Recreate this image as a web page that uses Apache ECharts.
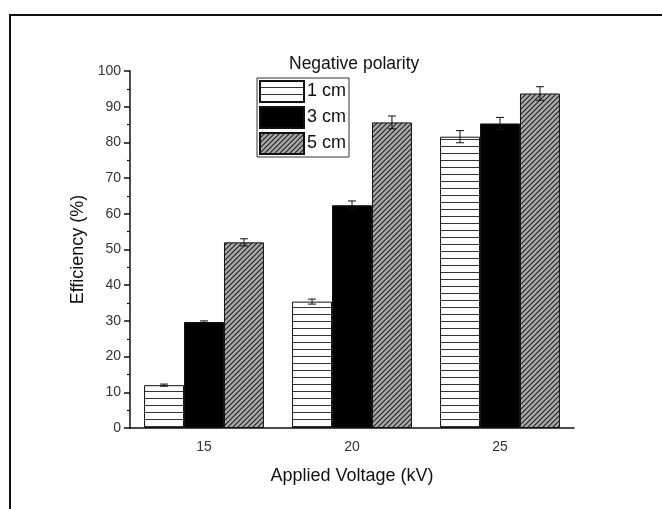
<!DOCTYPE html>
<html>
<head>
<meta charset="utf-8">
<script src="https://cdn.jsdelivr.net/npm/echarts@6/dist/echarts.min.js"></script>
<style>
  html, body { margin: 0; padding: 0; background: #fff; }
  #chart { width: 662px; height: 509px; }
</style>
</head>
<body>
<div id="chart"></div>
<script>
// data
const voltages = ['15', '20', '25'];
const seriesNames = ['1 cm', '3 cm', '5 cm'];
const eff1cm = [12.0, 35.4, 81.6];
const eff3cm = [29.7, 62.4, 85.3];
const eff5cm = [52.0, 85.6, 93.7];
const err1cm = [0.3, 0.7, 1.7];
const err3cm = [0.3, 1.2, 1.7];
const err5cm = [1.0, 1.8, 1.9];

const font = 'Liberation Sans, Arial, sans-serif';

// fill patterns
function stripes() {
  const c = document.createElement('canvas');
  c.width = 8; c.height = 7;
  const ctx = c.getContext('2d');
  ctx.fillStyle = '#fff';
  ctx.fillRect(0, 0, 8, 7);
  ctx.fillStyle = '#333';
  ctx.fillRect(0, 6, 8, 1);
  return c;
}
function hatch() {
  const c = document.createElement('canvas');
  c.width = 5; c.height = 5;
  const ctx = c.getContext('2d');
  ctx.fillStyle = '#a8a8a8';
  ctx.fillRect(0, 0, 5, 5);
  ctx.strokeStyle = '#222';
  ctx.lineWidth = 1.1;
  ctx.beginPath();
  ctx.moveTo(-1, 6); ctx.lineTo(6, -1);
  ctx.moveTo(-1, 1); ctx.lineTo(1, -1);
  ctx.moveTo(4, 6); ctx.lineTo(6, 4);
  ctx.stroke();
  return c;
}

const fills = [
  { image: stripes(), repeat: 'repeat' },
  '#000',
  { image: hatch(), repeat: 'repeat' }
];
const values = [eff1cm, eff3cm, eff5cm];
const errors = [err1cm, err3cm, err5cm];

const errData = [];
values.forEach((arr, s) => {
  arr.forEach((v, i) => errData.push([i, s, v, errors[s][i]]));
});

const chart = echarts.init(document.getElementById('chart'));

const option = {
  animation: false,
  backgroundColor: '#fff',
  graphic: [{
    type: 'rect',
    shape: { x: 10, y: 15, width: 700, height: 600 },
    style: { fill: 'none', stroke: '#111', lineWidth: 2 },
    silent: true
  }],
  title: {
    text: 'Negative polarity',
    left: 284,
    top: 50,
    textStyle: { fontFamily: font, fontSize: 17.5, fontWeight: 'normal', color: '#111' }
  },
  legend: {
    data: seriesNames,
    icon: 'rect',
    orient: 'vertical',
    left: 257,
    top: 78,
    itemWidth: 44,
    itemHeight: 21,
    itemGap: 3,
    padding: [2, 3, 2, 2],
    borderColor: '#333',
    borderWidth: 1,
    backgroundColor: '#fff',
    textStyle: { fontFamily: font, fontSize: 18, color: '#111', padding: [0, 0, 0, -2], lineHeight: 21 }
  },
  grid: { left: 130, right: 88, top: 71, bottom: 81 },
  xAxis: [{
    type: 'category',
    data: voltages,
    name: 'Applied Voltage (kV)',
    nameLocation: 'middle',
    nameGap: 39,
    nameTextStyle: { fontFamily: font, fontSize: 18, color: '#111' },
    axisLine: { lineStyle: { color: '#111', width: 1.5 } },
    axisTick: { alignWithLabel: true, length: 6, lineStyle: { color: '#111', width: 1.5 } },
    axisLabel: { fontFamily: font, fontSize: 14, color: '#333', margin: 12 }
  }, {
    type: 'category',
    data: voltages,
    position: 'bottom',
    axisLine: { show: false },
    axisTick: { length: 3, lineStyle: { color: '#111', width: 1.5 } },
    axisLabel: { show: false }
  }],
  yAxis: {
    type: 'value',
    min: 0,
    max: 100,
    interval: 10,
    name: 'Efficiency (%)',
    nameLocation: 'middle',
    nameGap: 39,
    nameTextStyle: { fontFamily: font, fontSize: 18, color: '#111' },
    axisLine: { show: true, lineStyle: { color: '#111', width: 1.5 } },
    axisTick: { show: true, length: 6, lineStyle: { color: '#111', width: 1.5 } },
    minorTick: { show: true, splitNumber: 2, length: 3, lineStyle: { color: '#111', width: 1.2 } },
    splitLine: { show: false },
    axisLabel: { fontFamily: font, fontSize: 14, color: '#333', margin: 9 }
  },
  series: [
    ...seriesNames.map((name, s) => ({
      name: name,
      type: 'bar',
      data: values[s],
      barGap: '0%',
      barCategoryGap: '19%',
      itemStyle: { color: fills[s], borderColor: '#111', borderWidth: 1 }
    })),
    {
      type: 'custom',
      name: 'err',
      data: errData,
      encode: { x: 0, y: 2 },
      z: 10,
      renderItem: function (params, api) {
        const cat = api.value(0);
        const s = api.value(1);
        const v = api.value(2);
        const e = api.value(3);
        const band = api.size([1, 0])[0];
        const bw = band * 0.81 / 3;
        const cx = api.coord([cat, v])[0] + (s - 1) * bw;
        const top = api.coord([cat, v + e])[1];
        const bot = api.coord([cat, v - e])[1];
        const cap = 4;
        const st = { stroke: '#111', lineWidth: 1 };
        return {
          type: 'group',
          children: [
            { type: 'line', shape: { x1: cx, y1: top, x2: cx, y2: bot }, style: st },
            { type: 'line', shape: { x1: cx - cap, y1: top, x2: cx + cap, y2: top }, style: st },
            { type: 'line', shape: { x1: cx - cap, y1: bot, x2: cx + cap, y2: bot }, style: st }
          ]
        };
      }
    }
  ]
};

chart.setOption(option);
window.addEventListener('resize', () => chart.resize());
</script>
</body>
</html>
